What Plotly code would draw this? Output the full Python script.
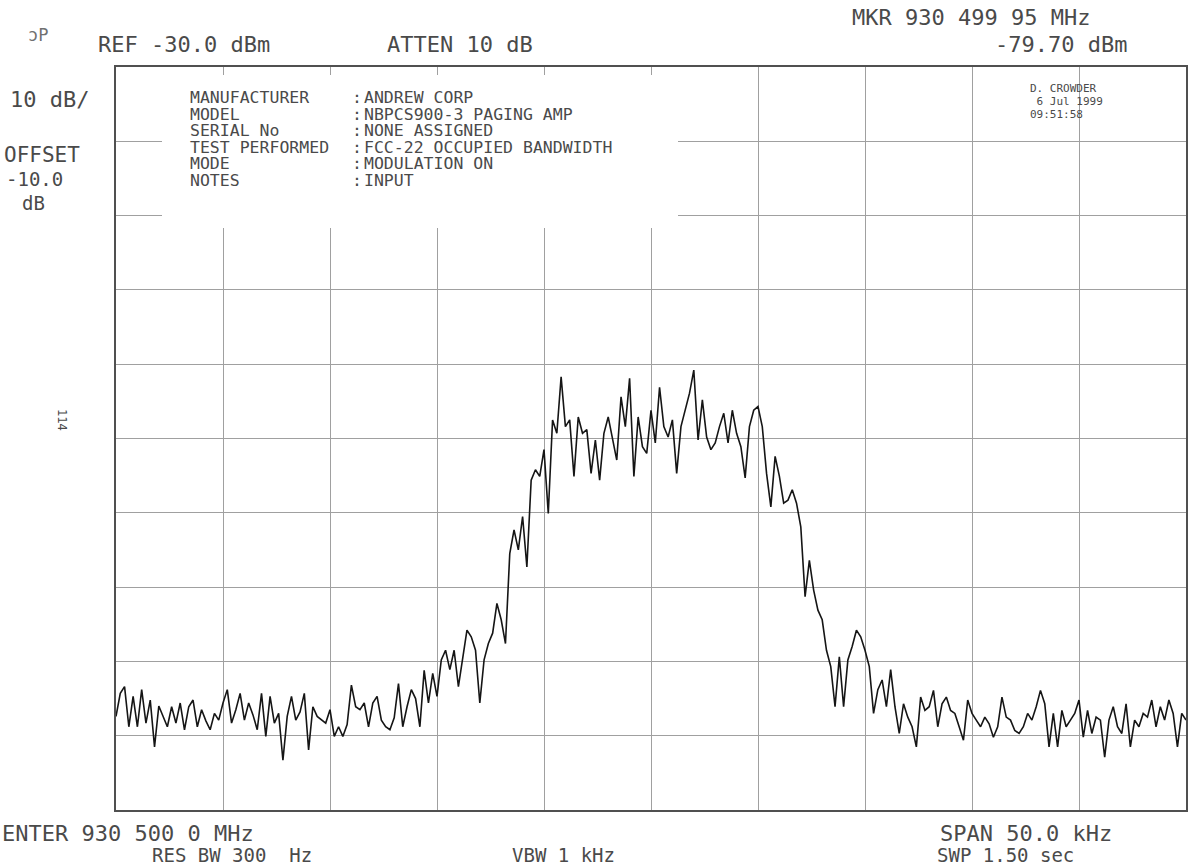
import numpy as np
import plotly.graph_objects as go

# ---------------- data ----------------
center_label = "ENTER 930 500 0 MHz"
span_khz = 50.0
ref_level_dbm = -30.0
db_per_div = 10.0
n_div = 10

# trace level in dBm, 251 points equally spaced across the 50 kHz span
level_left = [
    -117.4, -114.3, -113.4, -118.8, -114.7, -118.8, -113.8, -118.3, -115.2, -121.5,
    -116.0, -117.4, -118.8, -116.1, -118.3, -115.6, -119.2, -116.1, -115.2, -118.8,
    -116.5, -118.0, -119.2, -117.0, -117.9, -115.6, -113.8, -118.3, -116.5, -114.3,
    -117.9, -115.6, -117.2, -119.2, -114.3, -120.1, -114.7, -118.3, -117.0, -123.3,
    -117.4, -114.7, -117.9, -116.8, -114.3, -121.9, -116.1, -117.4, -117.9, -118.3,
    -116.5, -120.1, -118.8, -120.1, -118.5, -113.2, -116.1, -116.5, -115.6, -118.8,
    -115.6, -114.7, -117.9, -118.8, -119.2, -117.6, -113.0, -118.8, -116.1, -113.8,
    -115.0, -118.8, -111.2, -115.6, -111.6, -114.7,
]
level_rise = [
    -109.8, -108.5, -111.1, -108.5, -113.4, -109.4, -105.8, -106.7, -108.5, -115.6,
    -109.8, -107.6, -106.2, -102.2, -104.4, -107.6, -95.5, -92.3, -95.0, -90.5,
    -97.3, -85.6, -84.2, -85.1, -81.5, -90.1, -77.5, -79.3, -71.7, -78.4,
    -77.5, -85.1, -77.1, -79.3, -78.8, -84.7, -80.2, -85.6, -79.3, -77.1,
    -79.8, -82.9, -74.4, -78.4, -71.9, -85.1, -77.1, -81.1, -82.0, -76.2,
    -80.6,
]
level_fall = [
    -73.1, -78.4, -79.8, -77.5, -84.7, -78.4, -76.2, -73.9, -70.8, -80.2,
    -74.8, -79.8, -81.5, -80.6, -78.4, -76.6, -80.6, -76.2, -79.3, -81.1,
    -85.3, -78.4, -76.2, -75.7, -78.4, -84.7, -89.2, -82.4, -85.1, -88.7,
    -88.3, -86.9, -88.7, -91.9, -101.3, -96.4, -100.4, -103.1, -104.4, -108.5,
    -110.7, -116.1, -109.4, -116.1, -109.8, -108.0, -105.8, -106.7, -108.5, -110.7,
    -117.0, -113.8, -112.5, -116.1, -111.1, -116.1,
]
level_right = [
    -119.7, -115.7, -117.5, -118.8, -121.5, -114.8, -116.6, -116.1, -113.9, -118.8,
    -115.7, -114.8, -116.6, -117.0, -118.8, -120.6, -115.2, -117.0, -117.9, -118.8,
    -117.5, -118.4, -120.2, -118.8, -114.8, -117.5, -117.9, -119.3, -119.7, -118.8,
    -117.0, -117.9, -116.1, -113.9, -115.7, -121.5, -117.0, -121.5, -116.6, -118.8,
    -117.9, -117.0, -115.2, -120.2, -116.6, -119.7, -117.5, -117.9, -122.9, -117.9,
    -116.1, -118.8, -119.7, -115.7, -121.5, -117.9, -118.8, -117.0, -117.5, -115.2,
    -118.8, -116.1, -117.9, -115.2, -117.0, -121.5, -117.0, -117.9,
]

header_keys = ["MANUFACTURER", "MODEL", "SERIAL No", "TEST PERFORMED", "MODE", "NOTES"]
header_vals = ["ANDREW CORP", "NBPCS900-3 PAGING AMP", "NONE ASSIGNED",
               "FCC-22 OCCUPIED BANDWIDTH", "MODULATION ON", "INPUT"]
stamp_lines = ["D. CROWDER", " 6 Jul 1999", "09:51:58"]

level_dbm = level_left + level_rise + level_fall + level_right
offset_khz = np.linspace(-span_khz / 2, span_khz / 2, len(level_dbm))

# ---------------- figure ----------------
W, H = 1201, 867
L, R, T, B = 116, 15, 67, 57
PW, PH = W - L - R, H - T - B

def px(x):
    return (x - L) / PW

def py(y):
    return (H - B - y) / PH

FONT = "DejaVu Sans Mono"
GRAY = "#4a4a4a"

fig = go.Figure()
fig.add_trace(go.Scatter(
    x=offset_khz, y=level_dbm, mode="lines",
    line=dict(color="#151515", width=1.6),
    hoverinfo="skip", showlegend=False,
))

bottom = ref_level_dbm - n_div * db_per_div
fig.update_xaxes(range=[-span_khz / 2, span_khz / 2], dtick=span_khz / n_div,
                 tick0=0, showgrid=True, gridcolor="#a0a0a0", gridwidth=1,
                 showticklabels=False, ticks="", zeroline=False,
                 showline=True, mirror=True, linecolor="#505050", linewidth=2)
fig.update_yaxes(range=[bottom, ref_level_dbm], dtick=db_per_div, tick0=ref_level_dbm,
                 showgrid=True, gridcolor="#a0a0a0", gridwidth=1,
                 showticklabels=False, ticks="", zeroline=False,
                 showline=True, mirror=True, linecolor="#505050", linewidth=2)

ann = []

def text(s, x, y, size, anchor="left", angle=0, color=GRAY):
    ann.append(dict(text=s, x=px(x), y=py(y), xref="paper", yref="paper",
                    xanchor=anchor, yanchor="middle", showarrow=False,
                    textangle=angle, align="left",
                    font=dict(family=FONT, size=size, color=color)))

def block(lines, x, y_mid, line_px, glyph_px, anchor="left", color=GRAY):
    # multi-line text: line spacing set by base size (1.3 em), glyphs by span size
    body = "<br>".join(f'<span style="font-size:{glyph_px}px">{s}</span>' for s in lines)
    text(body, x, y_mid, line_px / 1.3, anchor=anchor, color=color)

# top line labels
text("ɔP", 26, 35, 17, color="#707070")
text("REF -30.0 dBm", 96, 45, 22)
text("ATTEN 10 dB", 385, 45, 22)
text("MKR 930 499 95 MHz", 850, 18, 22)
text("-79.70 dBm", 1129, 45, 22, anchor="right")
# left scale labels
text("10 dB/", 8, 100, 22)
text("OFFSET", 2, 155, 21)
text("-10.0", 4, 179, 19)
text("dB", 20, 203, 19)
text("114", 62, 420, 12, anchor="center", angle=90)
# bottom labels
text(center_label, 0, 833, 22)
text("SPAN 50.0 kHz", 938, 833, 22)
text("RES BW 300  Hz", 150, 855, 19)
text("VBW 1 kHz", 510, 855, 19)
text("SWP 1.50 sec", 935, 855, 19)

# header block inside the graticule
block(header_keys, 188, 138.5, 16.6, 16.5)
block([":"] * len(header_keys), 350, 138.5, 16.6, 16.5)
block(header_vals, 362, 138.5, 16.6, 16.5)
block(stamp_lines, 1028, 101, 13, 11)

fig.update_layout(
    width=W, height=H,
    margin=dict(l=L, r=R, t=T, b=B),
    paper_bgcolor="white", plot_bgcolor="white",
    annotations=ann,
    shapes=[dict(type="rect", xref="paper", yref="paper",
                 x0=px(162), x1=px(678), y0=py(228), y1=py(75),
                 fillcolor="white", line=dict(width=0), layer="above")],
)

fig.write_html("out.html", config={"displayModeBar": False},
               post_script="document.body.style.margin='0';document.body.style.overflow='hidden';")
